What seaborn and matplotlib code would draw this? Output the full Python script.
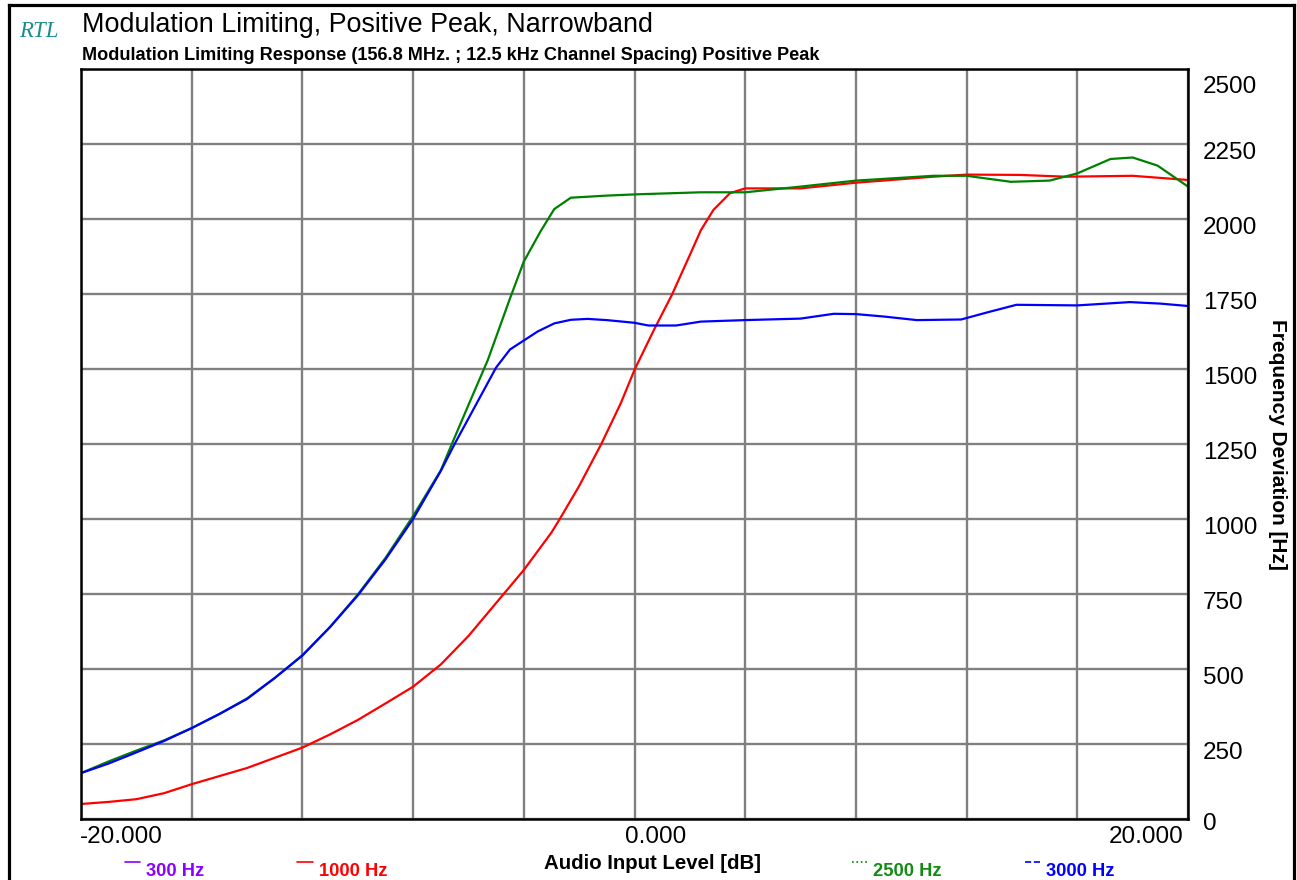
import numpy as np
import pandas as pd
import matplotlib
matplotlib.use("Agg")
import matplotlib.pyplot as plt
import seaborn as sns
from matplotlib.lines import Line2D
from matplotlib.transforms import ScaledTranslation, blended_transform_factory

# ---------------- data ----------------
series_names = ["300 Hz", "1000 Hz", "2500 Hz", "3000 Hz"]

x_1000 = [-20, -19, -18, -17, -16, -15, -14, -13, -12, -11, -10, -9, -8, -7, -6, -5, -4, -3,
          -2.7, -2, -1.2, -0.5, 0, 0.7, 1.35, 2, 2.4, 2.85, 3.45, 4, 6, 8, 10.8, 12, 13.9,
          15.6, 18, 20]
y_1000 = [50, 57, 66, 86, 116, 143, 170, 204, 238, 282, 330, 385, 441, 515, 610, 720, 830, 955,
          1000, 1110, 1250, 1385, 1497, 1630, 1747, 1880, 1963, 2030, 2086, 2102, 2102, 2121, 2141,
          2148, 2147, 2141, 2144, 2130]

x_2500 = [-20, -19, -18, -17, -16, -15, -14, -13, -12, -11, -10, -9, -8, -7, -6.6, -6, -5.3,
          -4.5, -4, -3.4, -2.9, -2.3, -1, 0, 2.4, 4, 6, 8, 10.8, 12, 13.6, 15, 16, 17.2, 18,
          18.9, 20]
y_2500 = [153, 192, 228, 262, 303, 350, 402, 470, 546, 640, 748, 870, 1010, 1162, 1250, 1380,
          1530, 1735, 1858, 1958, 2033, 2071, 2078, 2082, 2089, 2089, 2108, 2128, 2144, 2144, 2124,
          2128, 2152, 2200, 2205, 2178, 2108]

x_3000 = [-20, -19, -18, -17, -16, -15, -14, -13, -12, -11, -10, -9, -8, -7, -6.5, -6, -5.5, -5,
          -4.5, -4, -3.5, -2.9, -2.3, -1.7, -1, 0, 0.5, 1.5, 2.4, 4, 6, 7.2, 8, 9, 10.2, 11.8,
          12.8, 13.8, 16, 17.9, 19, 20]
y_3000 = [153, 185, 222, 260, 303, 350, 400, 470, 545, 640, 745, 865, 1000, 1160, 1250, 1335,
          1420, 1505, 1565, 1595, 1625, 1652, 1664, 1667, 1663, 1654, 1645, 1645, 1658, 1663, 1668,
          1684, 1683, 1675, 1663, 1665, 1690, 1714, 1712, 1723, 1718, 1710]

x_ticks = list(range(-20, 21, 4))
y_ticks = list(range(0, 2501, 250))
x_tick_labels = {-20: "-20.000", 0: "0.000", 20: "20.000"}
y_tick_labels = [str(v) for v in y_ticks]

title = "Modulation Limiting, Positive Peak, Narrowband"
subtitle = "Modulation Limiting Response (156.8 MHz. ; 12.5 kHz Channel Spacing) Positive Peak"
x_label = "Audio Input Level [dB]"
y_label = "Frequency Deviation [Hz]"

line_colors = {"300 Hz": "#8a00ff", "1000 Hz": "#ff0000", "2500 Hz": "#008000", "3000 Hz": "#0000ff"}
text_colors = {"300 Hz": "#8a00ff", "1000 Hz": "#ff0000", "2500 Hz": "#138a13", "3000 Hz": "#0000ff"}

# ---------------- figure ----------------
sns.set_theme(style="white")
plt.rcParams["font.family"] = ["Liberation Sans", "DejaVu Sans"]

W, H = 1297, 880
fig = plt.figure(figsize=(W / 100, H / 100), dpi=100)
fig.patch.set_facecolor("white")


def fx(px):
    return px / W


def fy(py):
    return 1 - py / H


ax = fig.add_axes([fx(81), fy(819), (1188 - 81) / W, (819 - 69) / H])
ax.set_facecolor("white")

df = pd.concat([
    pd.DataFrame({"level": x_1000, "dev": y_1000, "series": "1000 Hz"}),
    pd.DataFrame({"level": x_2500, "dev": y_2500, "series": "2500 Hz"}),
    pd.DataFrame({"level": x_3000, "dev": y_3000, "series": "3000 Hz"}),
], ignore_index=True)

sns.lineplot(data=df, x="level", y="dev", hue="series",
             hue_order=["1000 Hz", "2500 Hz", "3000 Hz"],
             palette=line_colors, estimator=None, sort=True,
             linewidth=1.6, legend=False, ax=ax, zorder=3)

ax.set_xlim(-20, 20)
ax.set_ylim(0, 2500)
ax.set_xticks(x_ticks)
ax.set_yticks(y_ticks)
ax.set_xticklabels([])
ax.set_yticklabels([])
ax.tick_params(length=0)
ax.set_xlabel("")
ax.set_ylabel("")
ax.grid(True, color="#808080", linewidth=1.7)
ax.set_axisbelow(True)
for s in ax.spines.values():
    s.set_visible(True)
    s.set_color("black")
    s.set_linewidth(1.8)
    s.set_zorder(5)


def off(dx, dy):
    return ScaledTranslation(dx / 100, dy / 100, fig.dpi_scale_trans)


# y tick labels on the right
ytrans = blended_transform_factory(ax.transAxes, ax.transData)
for v, lab in zip(y_ticks, y_tick_labels):
    dy = -15
    if v == 0:
        dy = -11
    if v == 2500:
        dy = -24
    ax.text(1, v, lab, transform=ytrans + off(15, dy), ha="left", va="baseline",
            fontsize=17.5, color="black")

# x tick labels
xtrans = blended_transform_factory(ax.transData, ax.transAxes)
for v, lab in x_tick_labels.items():
    if v == -20:
        ha, dx = "left", -1
    elif v == 0:
        ha, dx = "left", -9
    else:
        ha, dx = "right", -4
    ax.text(v, 0, lab, transform=xtrans + off(dx, -24), ha=ha, va="baseline",
            fontsize=17.5, color="black")

# axis labels
fig.text(fx(653), fy(869), x_label, ha="center", va="baseline", fontsize=14.7,
         fontweight="bold", color="black")
ax.text(1, 0.5, y_label, transform=ax.transAxes + off(1277 - 1188, 0), rotation=-90,
        ha="center", va="center", fontsize=15, fontweight="bold", color="black")

# titles
fig.text(fx(82), fy(32), title, ha="left", va="baseline", fontsize=19.4, color="black")
fig.text(fx(82), fy(60), subtitle, ha="left", va="baseline", fontsize=13.1,
         fontweight="bold", color="black")
fig.text(fx(19), fy(37), "RTL", ha="left", va="baseline", fontsize=16.5, style="italic",
         family=["Liberation Serif", "DejaVu Serif"], color="#1b8c8c")

# legend along the bottom
legend_items = [
    ("300 Hz", 125, 140, 146, "-"),
    ("1000 Hz", 297, 313, 319, "-"),
    ("2500 Hz", 852, 867, 873, ":"),
    ("3000 Hz", 1025, 1040, 1046, "--"),
]
for name, l0, l1, t0, ls in legend_items:
    fig.add_artist(Line2D([fx(l0), fx(l1)], [fy(862), fy(862)], transform=fig.transFigure,
                          color=line_colors[name], linewidth=1.2, linestyle=ls))
    fig.text(fx(t0), fy(876), name, ha="left", va="baseline", fontsize=13.2,
             fontweight="bold", color=text_colors[name])

# outer frame
frame_kw = dict(transform=fig.transFigure, color="black", linewidth=2.3, solid_capstyle="projecting")
fig.add_artist(Line2D([fx(8.5), fx(8.5)], [fy(5), fy(885)], **frame_kw))
fig.add_artist(Line2D([fx(8.5), fx(1293.5)], [fy(5), fy(5)], **frame_kw))
fig.add_artist(Line2D([fx(1293.5), fx(1293.5)], [fy(5), fy(885)], **frame_kw))

fig.savefig("out.png", dpi=100, facecolor="white")
